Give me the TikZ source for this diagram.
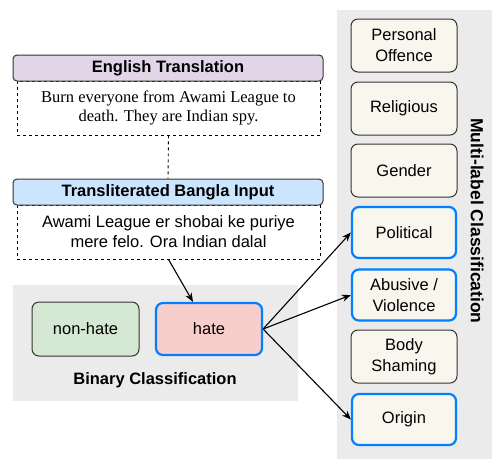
\documentclass[tikz,border=0pt]{standalone}
\usepackage{fontspec}
\setmainfont{Liberation Sans}
\newfontfamily\timesface{Liberation Serif}
\usetikzlibrary{arrows.meta}

\definecolor{hdrpurple}{HTML}{E1D5E7}
\definecolor{hdrblue}{HTML}{CCE5FF}
\definecolor{nhgreen}{HTML}{D5E8D4}
\definecolor{hatered}{HTML}{F8CECC}
\definecolor{catfill}{HTML}{F9F7ED}
\definecolor{panelgrey}{HTML}{EBEBEB}
\definecolor{selblue}{HTML}{007FFF}
\definecolor{edgegrey}{HTML}{333333}

\tikzset{
  header/.style={draw=edgegrey, line width=1pt, rounded corners=4pt,
    minimum width=310pt, minimum height=26pt, inner sep=0pt,
    font=\fontsize{16.5}{19}\selectfont\bfseries},
  textbox/.style={draw=black, dashed, line width=0.9pt,
    minimum width=303pt, minimum height=54pt, inner sep=0pt, align=center},
  labelbox/.style={draw=edgegrey, line width=1pt, rounded corners=7pt,
    minimum width=107pt, minimum height=54pt, inner sep=0pt, align=center,
    font=\fontsize{16.5}{21}\selectfont},
  catbox/.style={labelbox, fill=catfill, minimum width=106pt, minimum height=53pt},
  picked/.style={draw=selblue, line width=2.2pt},
  arr/.style={-{Stealth[length=9pt,width=7pt]}, line width=1.1pt},
}

\begin{document}
\begin{tikzpicture}[x=1pt, y=-1pt]
    \useasboundingbox (0,0) rectangle (492,459);

    % grey panels
    \fill[panelgrey] (13,285) rectangle (298,401);
    \fill[panelgrey] (337,10) rectangle (492,459);

    % input side
    \node[textbox, font=\timesface\fontsize{16.5}{18.5}\selectfont] (txtEn) at (168.5,108)
        {Burn everyone from Awami League to\\death. They are Indian spy.};
    \node[header, fill=hdrpurple] (hdrEn) at (168,68) {English Translation};

    \node[textbox, font=\fontsize{16.5}{20}\selectfont] (txtBn) at (168.5,232)
        {Awami League er shobai ke puriye\\mere felo. Ora Indian dalal};
    \node[header, fill=hdrblue] (hdrBn) at (168,192) {Transliterated Bangla Input};

    \draw[dashed, line width=0.9pt] (txtEn.south) -- (hdrBn.north);

    % binary classification
    \node[labelbox, fill=nhgreen] (nonhate) at (85.5,329) {non-hate};
    \node[labelbox, fill=hatered, picked, minimum width=106pt, minimum height=52pt] (hate) at (209,329) {hate};
    \node[font=\fontsize{16.5}{19}\selectfont\bfseries] (binlbl) at (155,380) {Binary Classification};

    % multi-label classification
    \node[catbox] (personal) at (404,45.5) {Personal\\Offence};
    \node[catbox] (religious) at (404,108.5) {Religious};
    \node[catbox] (gender) at (404,170.5) {Gender};
    \node[catbox, picked, minimum width=104pt, minimum height=51pt] (political) at (404,232.5) {Political};
    \node[catbox, picked, minimum width=104pt, minimum height=51pt] (abusive) at (404,295) {Abusive /\\Violence};
    \node[catbox] (body) at (404,356.5) {Body\\Shaming};
    \node[catbox, picked, minimum width=104pt, minimum height=51pt] (origin) at (404,419.5) {Origin};
    \node[rotate=-90, font=\fontsize{17.5}{20}\selectfont\bfseries] (multilbl) at (477,221) {Multi-label Classification};

    \draw[arr] (txtBn.south) -- ([xshift=-16pt]hate.north);
    \draw[arr] (hate.east) -- (political.west);
    \draw[arr] (hate.east) -- (abusive.west);
    \draw[arr] (hate.east) -- (origin.west);
\end{tikzpicture}
\end{document}
